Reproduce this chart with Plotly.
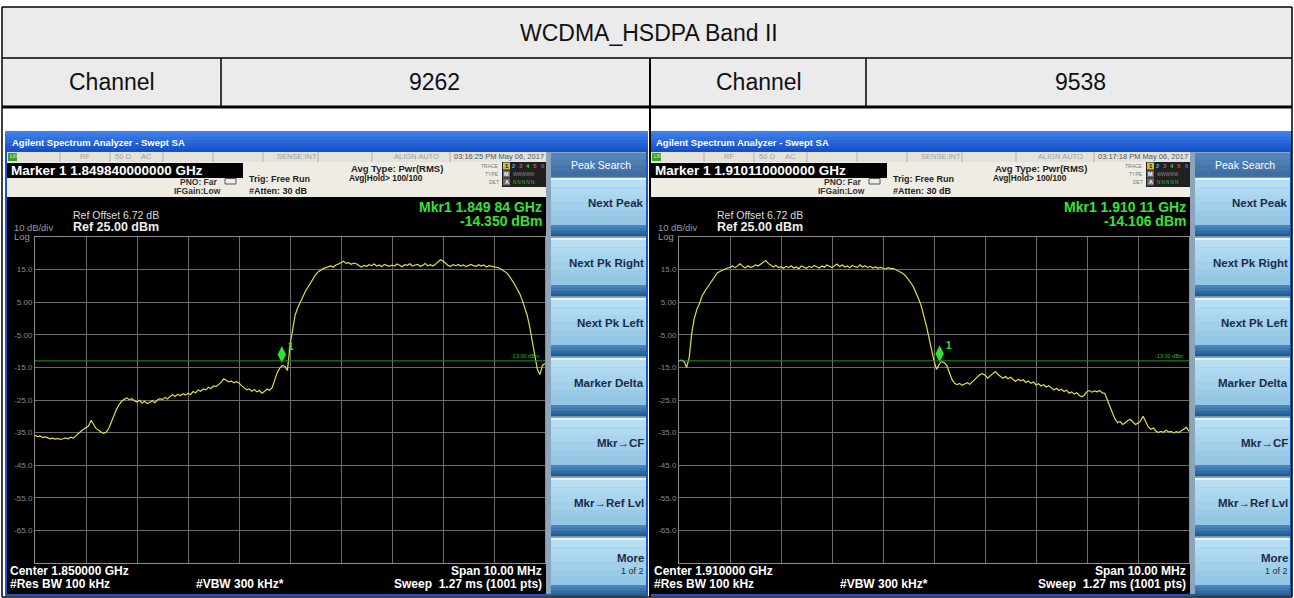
import numpy as np
import plotly.graph_objects as go

# ---------------- data ----------------
table_title = "WCDMA_HSDPA Band II"
channel_label = "Channel"
channels = ["9262", "9538"]
center_ghz = [1.850, 1.910]
span_mhz = 10.0
n_points = 201
ref_level_dbm = 25.0
db_per_div = 10
limit_dbm = -13.0
marker_freq_ghz = [1.84984, 1.91011]
marker_level_dbm = [-14.350, -14.106]
marker_text = ["Marker 1 1.849840000000 GHz", "Marker 1 1.910110000000 GHz"]
mkr_readout = ["Mkr1 1.849 84 GHz", "Mkr1 1.910 11 GHz"]
mkr_level_text = ["-14.350 dBm", "-14.106 dBm"]
timestamps = ["03:16:25 PM May 06, 2017", "03:17:18 PM May 06, 2017"]
center_text = ["Center 1.850000 GHz", "Center 1.910000 GHz"]
ytick_vals = [15, 5, -5, -15, -25, -35, -45, -55, -65]
ytick_text = ["15.0", "5.00", "-5.00", "-15.0", "-25.0", "-35.0", "-45.0", "-55.0", "-65.0"]
softkeys = ["Next Peak", "Next Pk Right", "Next Pk Left", "Marker Delta", "Mkr\u2192CF", "Mkr\u2192Ref Lvl"]

level_9262 = [
    -35.8, -36.2, -36.0, -36.5, -36.3, -36.6, -36.9, -36.7, -37.0, -36.8, -37.1, -36.9, -36.6, -36.9, -36.4, -36.7, -35.9, -35.2, -34.6, -34.0,
    -33.4, -33.0, -31.2, -32.6, -33.8, -34.3, -34.9, -35.2, -34.8, -33.6, -31.5, -29.6, -27.8, -26.4, -25.4, -24.8, -24.4, -24.9, -24.6, -25.2,
    -25.6, -25.1, -25.9, -25.4, -26.1, -25.7, -25.2, -25.8, -25.0, -24.6, -24.9, -24.2, -24.7, -23.9, -23.4, -23.9, -23.2, -23.7, -23.1, -23.5,
    -22.9, -23.3, -22.4, -22.8, -21.9, -22.3, -21.6, -21.9, -21.1, -21.5, -20.7, -20.9, -20.2, -19.6, -18.5, -19.0, -19.4, -19.2, -19.7, -19.4,
    -19.8, -20.6, -21.4, -21.9, -21.6, -22.3, -21.8, -22.5, -22.1, -22.9, -22.4, -21.6, -22.0, -21.2, -18.9, -16.6, -15.2, -14.4, -14.7, -15.9,
    -8.2, -3.0, 1.0, 3.2, 5.1, 6.8, 8.3, 9.6, 11.0, 12.4, 13.4, 14.3, 14.9, 15.3, 15.6, 15.8, 16.1, 15.8, 16.4, 16.7,
    17.2, 17.6, 16.9, 17.1, 16.6, 17.0, 16.8, 16.2, 15.8, 16.3, 16.0, 16.5, 16.2, 16.7, 16.1, 16.4, 15.9, 16.6, 16.3, 16.0,
    16.4, 16.1, 16.7, 16.2, 15.9, 16.5, 16.3, 16.8, 16.1, 16.4, 16.6, 16.0, 16.3, 16.9, 16.2, 16.5, 16.1, 16.6, 17.3, 18.0,
    17.6, 16.9, 16.3, 16.0, 16.5, 16.2, 16.6, 16.1, 16.4, 15.9, 16.3, 16.6, 16.2, 16.0, 16.5, 16.1, 16.4, 15.8, 16.2, 16.0,
    16.0, 15.7, 15.5, 15.0, 14.6, 14.0, 13.0, 11.9, 10.6, 9.1, 7.8, 5.8, 3.6, 1.0, -2.6, -6.8, -11.4, -15.6, -17.2, -14.4,
    -13.8,
]

level_9538 = [
    -13.0, -12.8, -13.2, -15.0, -12.0, -4.5, 0.0, 2.8, 4.5, 6.8, 8.2, 9.4, 10.6, 11.8, 13.0, 14.0, 14.4, 14.8, 15.2, 15.5,
    15.7, 16.1, 15.6, 16.3, 16.8, 16.0, 15.5, 16.2, 15.7, 15.9, 16.4, 16.1, 16.6, 17.1, 17.8, 16.9, 16.2, 15.8, 16.3, 15.6,
    15.9, 15.4, 16.0, 15.6, 16.2, 15.5, 15.8, 15.3, 16.1, 15.7, 15.4, 16.0, 15.6, 16.3, 15.8, 15.5, 16.1, 15.7, 16.4, 15.9,
    15.6, 16.2, 16.7, 15.9, 16.4, 15.8, 16.1, 15.6, 16.3, 15.9, 15.7, 16.5, 15.8, 16.2, 15.6, 16.0, 15.5, 15.8, 15.4, 15.7,
    15.5, 15.2, 15.6, 15.3, 15.4, 15.0, 14.6, 14.2, 13.7, 12.9, 12.0, 10.9, 9.6, 8.0, 6.0, 3.8, 1.0, -2.2, -5.8, -9.6,
    -13.0, -15.6, -14.1, -13.1, -13.6, -14.4, -16.4, -18.6, -19.8, -20.3, -19.9, -20.5, -20.1, -19.7, -20.2, -19.4, -18.8, -17.9, -17.2, -16.9,
    -17.4, -18.3, -17.6, -17.0, -16.3, -17.1, -17.6, -18.3, -17.8, -18.5, -18.0, -18.7, -19.3, -18.6, -19.1, -18.8, -19.6, -19.2, -19.9, -19.5,
    -20.4, -20.0, -20.7, -20.3, -21.0, -20.6, -21.3, -21.9, -21.4, -22.1, -21.7, -22.4, -22.0, -22.9, -22.5, -23.2, -22.8, -23.6, -24.0, -23.5,
    -22.4, -22.1, -22.6, -22.2, -22.5, -22.1, -22.8, -23.0, -25.0, -27.2, -29.0, -30.8, -32.0, -31.6, -32.5, -32.0, -31.3, -31.0, -31.9, -32.5,
    -32.1, -31.4, -30.0, -31.8, -33.2, -34.0, -33.6, -34.5, -35.0, -34.6, -34.9, -34.3, -34.8, -34.6, -35.1, -34.7, -35.0, -34.4, -34.0, -33.4,
    -34.6,
]
levels = [level_9262, level_9538]

# ---------------- layout helpers ----------------
W, H = 1294, 598
FONT = "Liberation Sans, Arial, sans-serif"
shapes, annots = [], []


def px(x):
    return x / W


def py(y):
    return 1 - y / H


def rect(x0, y0, x1, y1, fill, line=None, lw=0):
    shapes.append(dict(type="rect", xref="paper", yref="paper", layer="below",
                       x0=px(x0), x1=px(x1), y0=py(y1), y1=py(y0),
                       fillcolor=fill, line=dict(width=lw, color=line or fill)))


def line(x0, y0, x1, y1, color, lw=1):
    shapes.append(dict(type="line", xref="paper", yref="paper", layer="below",
                       x0=px(x0), x1=px(x1), y0=py(y0), y1=py(y1),
                       line=dict(width=lw, color=color)))


def mix(c0, c1, t):
    a = [int(c0[i:i + 2], 16) for i in (1, 3, 5)]
    b = [int(c1[i:i + 2], 16) for i in (1, 3, 5)]
    return "#%02x%02x%02x" % tuple(int(round(a[k] + (b[k] - a[k]) * t)) for k in range(3))


def grad(x0, y0, x1, y1, c0, c1, n=6):
    h = (y1 - y0) / n
    for i in range(n):
        rect(x0, y0 + i * h, x1, y0 + (i + 1) * h + 0.3, mix(c0, c1, i / max(n - 1, 1)))


def text(x, y, s, size, color, anchor="left", bold=False):
    annots.append(dict(xref="paper", yref="paper", x=px(x), y=py(y),
                       text=("<b>%s</b>" % s) if bold else s, showarrow=False,
                       xanchor=anchor, yanchor="middle", borderpad=0,
                       font=dict(size=size, color=color, family=FONT)))


# ---------------- table ----------------
rect(2, 7, 1292, 58, "#ebebeb")
rect(2, 58, 1292, 107, "#ebebeb")
rect(2, 107, 1292, 131, "#ffffff")
text(649, 33, table_title, 23, "#111111", "center")
text(112, 82, channel_label, 23, "#111111", "center")
text(435, 82, channels[0], 23, "#111111", "center")
text(759, 82, channel_label, 23, "#111111", "center")
text(1080, 82, channels[1], 23, "#111111", "center")

# ---------------- analyzer screens ----------------
origins = [5, 649]
for k, ox in enumerate(origins):
    # window frame + title bar
    rect(ox, 131, ox + 643, 596, "#1b55c9")
    grad(ox, 131, ox + 643, 152, "#3f80ec", "#1450c6", 7)
    text(ox + 6, 143, "Agilent Spectrum Analyzer - Swept SA", 9.5, "#ffffff", bold=True)
    # status row
    rect(ox + 2, 152, ox + 541, 162, "#e3e2db")
    for dx in (55, 105, 158, 208, 258, 313, 367, 445):
        line(ox + dx, 152, ox + dx, 162, "#b4b3ab", 1)
    rect(ox + 3, 153, ox + 12, 161, "#3c9c2c")
    text(ox + 4, 157, "LXI", 4.5, "#e8ffe0")
    text(ox + 80, 157, "RF", 7.5, "#a0a0a0", "center")
    text(ox + 118, 157, "50 \u03a9", 7.5, "#a0a0a0", "center")
    text(ox + 141, 157, "AC", 7.5, "#a0a0a0", "center")
    text(ox + 292, 157, "SENSE:INT", 7.5, "#a0a0a0", "center")
    text(ox + 411, 157, "ALIGN AUTO", 7.5, "#a0a0a0", "center")
    text(ox + 494, 157, timestamps[k], 7.5, "#555555", "center")
    # marker / settings row
    rect(ox + 2, 162, ox + 541, 197, "#efede3")
    rect(ox + 2, 163, ox + 238, 178, "#000000")
    text(ox + 5, 170.5, marker_text[k], 13.5, "#ffffff", bold=True)
    text(ox + 214, 182, "PNO: Far", 8.5, "#333333", "right", bold=True)
    text(ox + 217, 191, "IFGain:Low", 8.5, "#333333", "right", bold=True)
    rect(ox + 220, 178.5, ox + 231, 184, "#efede3", "#555555", 1)
    text(ox + 243, 179, "Trig: Free Run", 9, "#222222", bold=True)
    text(ox + 243, 191, "#Atten: 30 dB", 9, "#222222", bold=True)
    text(ox + 345, 168, "Avg Type: Pwr(RMS)", 9.5, "#222222", bold=True)
    text(ox + 343, 178, "Avg|Hold&gt; 100/100", 8.3, "#222222", bold=True)
    text(ox + 495, 166, "TRACE", 5, "#777777", "right")
    text(ox + 495, 174, "TYPE", 5, "#777777", "right")
    text(ox + 495, 182, "DET", 5, "#777777", "right")
    rect(ox + 497, 162, ox + 541, 187, "#202020")
    trace_cols = ["#d8d04a", "#22c4d4", "#c840c8", "#44cc44", "#e04848", "#5a5ae6"]
    rect(ox + 498, 162.5, ox + 505, 169.5, "#c8c040")
    for j, c in enumerate(trace_cols):
        text(ox + 501.5 + j * 7.2, 166, str(j + 1), 6, "#111111" if j == 0 else c, "center", bold=True)
    rect(ox + 498, 170.5, ox + 505, 177.5, "#6a6a6a")
    text(ox + 501.5, 174, "M", 5.5, "#ffffff", "center", bold=True)
    text(ox + 507, 174, "WWWWW", 4.5, "#8a8a8a")
    rect(ox + 498, 178.5, ox + 505, 185.5, "#6a6a6a")
    text(ox + 501.5, 182, "A", 5.5, "#ffffff", "center", bold=True)
    text(ox + 507, 182, "N N N N N", 4.5, "#3fbf3f")
    # black display
    rect(ox + 2, 197, ox + 541, 594, "#000000")
    text(ox + 67, 215, "Ref Offset 6.72 dB", 10.5, "#dddddd")
    text(ox + 67, 227, "Ref 25.00 dBm", 12.5, "#eeeeee", bold=True)
    text(ox + 8, 228, "10 dB/div", 9.4, "#9a9a9a")
    text(ox + 8, 236.5, "Log", 9.4, "#9a9a9a")
    text(ox + 538, 207.5, mkr_readout[k], 14, "#38e038", "right", bold=True)
    text(ox + 538, 221.5, mkr_level_text[k], 14, "#38e038", "right", bold=True)
    text(ox + 4, 571, center_text[k], 12, "#ffffff", bold=True)
    text(ox + 4, 584, "#Res BW 100 kHz", 12, "#ffffff", bold=True)
    text(ox + 190, 584, "#VBW 300 kHz*", 12, "#ffffff", bold=True)
    text(ox + 538, 571, "Span %.2f MHz" % span_mhz, 12, "#ffffff", "right", bold=True)
    text(ox + 538, 584, "Sweep  1.27 ms (1001 pts)", 12, "#ffffff", "right", bold=True)
    # softkey panel
    rect(ox + 541, 152, ox + 641, 594, "#8ea4ba")
    grad(ox + 546, 153, ox + 641, 177, "#5584b8", "#3f6ea4", 4)
    text(ox + 596, 165, "Peak Search", 10.5, "#ffffff", "center")
    for i in range(7):
        top = 177 + 60 * i
        rect(ox + 546, top + 1, ox + 641, top + 3, "#e4f4fc")
        grad(ox + 546, top + 3, ox + 641, top + 48, "#b6def3", "#92c6e4", 6)
        grad(ox + 546, top + 48, ox + 641, top + 59, "#4a86bb", "#1f5c95", 4)
        if i < len(softkeys):
            text(ox + 640, top + 26, softkeys[i], 11.5, "#1b2b4b", "right", bold=True)
    text(ox + 640, 558, "More", 11.5, "#1b2b4b", "right", bold=True)
    text(ox + 640, 571, "1 of 2", 9, "#1b2b4b", "right")

# table borders (drawn after screens)
line(2, 7, 1292, 7, "#000000", 1.5)
line(2, 58, 1292, 58, "#000000", 1.5)
line(2, 107, 1292, 107, "#000000", 3)
line(2, 597, 1292, 597, "#000000", 1.5)
line(2, 7, 2, 597, "#000000", 1.5)
line(1292, 7, 1292, 597, "#000000", 1.5)
line(650, 58, 650, 597, "#000000", 2)
line(221, 58, 221, 107, "#000000", 1.5)
line(866, 58, 866, 107, "#000000", 1.5)

# ---------------- graticules & traces ----------------
fig = go.Figure()
for k, ox in enumerate(origins):
    xa = "x" if k == 0 else "x2"
    ya = "y" if k == 0 else "y2"
    f0 = center_ghz[k] - span_mhz / 2000
    f1 = center_ghz[k] + span_mhz / 2000
    freqs = np.linspace(f0, f1, n_points)
    fig.add_trace(go.Scatter(x=freqs, y=levels[k], mode="lines", xaxis=xa, yaxis=ya,
                             line=dict(color="#e2dc4e", width=1.2), showlegend=False, hoverinfo="skip"))
    # marker diamond (drawn just above the marker point)
    fig.add_trace(go.Scatter(x=[marker_freq_ghz[k]], y=[marker_level_dbm[k] + 3.3], mode="markers",
                             xaxis=xa, yaxis=ya, showlegend=False, hoverinfo="skip",
                             marker=dict(symbol="diamond-tall", size=12, color="#2fe02f",
                                         line=dict(width=0))))
    annots.append(dict(xref=xa, yref=ya, x=marker_freq_ghz[k], y=marker_level_dbm[k], text="<b>1</b>",
                       showarrow=False, xshift=9, yshift=19,
                       font=dict(size=10, color="#2fe02f", family=FONT)))
    # limit line
    shapes.append(dict(type="line", xref=xa + " domain", yref=ya, x0=0, x1=1,
                       y0=limit_dbm, y1=limit_dbm, line=dict(color="#1f9a1f", width=1)))
    annots.append(dict(xref=xa + " domain", yref=ya, x=0.995, y=limit_dbm, text="%.2f dBm" % limit_dbm,
                       showarrow=False, xanchor="right", yanchor="bottom", yshift=0,
                       font=dict(size=5.5, color="#2fbf2f", family=FONT)))
    axx = dict(domain=[px(ox + 30), px(ox + 540)], range=[f0, f1], tick0=f0, dtick=0.001,
               showgrid=True, gridcolor="#6c6c6c", gridwidth=1, showticklabels=False, ticks="",
               zeroline=False, showline=True, mirror=True, linecolor="#8c8c8c", linewidth=1,
               anchor=ya)
    axy = dict(domain=[py(563), py(237)], range=[ref_level_dbm - 10 * db_per_div, ref_level_dbm],
               tickvals=ytick_vals, ticktext=ytick_text, showgrid=True, gridcolor="#6c6c6c",
               gridwidth=1, zeroline=False, showline=True, mirror=True, linecolor="#8c8c8c",
               linewidth=1, ticks="", tickfont=dict(size=8, color="#8a8a8a", family=FONT),
               anchor=xa)
    if k == 0:
        fig.update_layout(xaxis=axx, yaxis=axy)
    else:
        fig.update_layout(xaxis2=axx, yaxis2=axy)

fig.update_layout(width=W, height=H, autosize=False, margin=dict(l=0, r=0, t=0, b=0),
                  paper_bgcolor="#ffffff", plot_bgcolor="#000000",
                  shapes=shapes, annotations=annots, showlegend=False)
fig.write_html("out.html", config={"displayModeBar": False},
               post_script="document.body.style.margin='0px';document.body.style.overflow='hidden';")
